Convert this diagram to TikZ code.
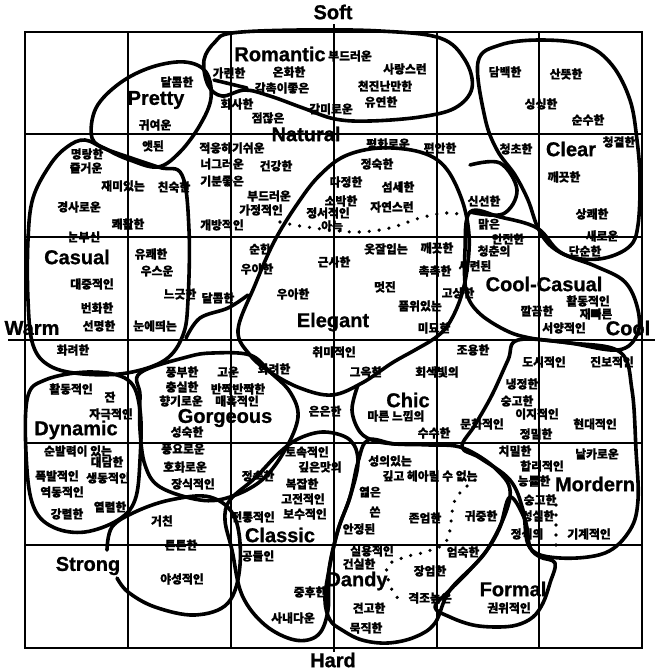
\documentclass[tikz,border=0pt]{standalone}
\usepackage{fontspec}
\setmainfont{Liberation Sans}[BoldFeatures={FakeBold=1}]
\newfontfamily\kr{Noto Sans CJK KR}[BoldFeatures={FakeBold=1}]
\begin{document}
\begin{tikzpicture}[x=1pt,y=-1pt,
  kw/.style={font=\kr\bfseries\fontsize{11.8}{12}\selectfont, inner sep=0pt},
  cat/.style={font=\bfseries\fontsize{20}{20}\selectfont, inner sep=0pt},
  blob/.style={line width=3.6pt, line cap=round, line join=round},
  gridline/.style={line width=1.3pt},
  axisline/.style={line width=2.6pt},
  dotline/.style={line width=3.6pt, line cap=round, dash pattern=on 0pt off 10pt}]
\useasboundingbox (0,0) rectangle (661,672);
% grid
\draw[gridline] (25,32) rectangle (642,648);
\foreach \gx in {128,231,437,539} \draw[gridline] (\gx,32) -- (\gx,648);
\foreach \gy in {134,237,443,545} \draw[gridline] (25,\gy) -- (642,\gy);
\coordinate (vt) at (334,24); \coordinate (vb) at (334,652);
\coordinate (hl) at (8,340); \coordinate (hr) at (655,340);
\draw[axisline] (vt) -- (vb);
\draw[axisline] (hl) -- (hr);
% blobs
\draw[blob] plot[smooth cycle, tension=0.6] coordinates {(232,33) (300,30) (380,31) (440,38) (465,60) (472,88) (455,108) (420,117) (370,121) (335,119) (303,108) (270,96) (245,90) (222,96) (208,85) (204,60) (215,42)};
\draw[blob] (214,80) -- (247,88);
\draw[blob] plot[smooth cycle, tension=0.6] coordinates {(92,138) (96,108) (120,83) (152,67) (185,62) (206,72) (211,98) (200,125) (180,152) (158,167) (130,160) (108,150)};
\draw[blob] plot[smooth cycle, tension=0.6] coordinates {(85,140) (108,150) (158,167) (182,175) (189,230) (188,300) (183,335) (165,360) (127,373) (83,374) (50,366) (33,345) (28,300) (28,240) (33,198) (50,165) (67,147)};
\draw[blob] plot[smooth cycle, tension=0.6] coordinates {(478,62) (500,45) (540,40) (585,45) (612,65) (630,100) (637,140) (640,180) (638,225) (630,246) (605,258) (575,258) (552,247) (538,228) (528,200) (515,175) (497,150) (485,118)};
\draw[blob] plot[smooth cycle, tension=0.6] coordinates {(238,330) (255,285) (275,240) (300,200) (320,175) (345,156) (380,148) (420,152) (445,167) (462,200) (469,235) (467,270) (460,300) (448,325) (435,338) (415,350) (392,363) (362,383) (332,395) (300,388) (270,372) (250,355)};
\draw[blob] plot[smooth, tension=0.6] coordinates {(186,338) (200,318) (228,308) (248,295)};
\draw[blob] plot[smooth, tension=0.6] coordinates {(470,165) (500,163) (517,190) (503,214) (470,212)};
\draw[blob] plot[smooth cycle, tension=0.6] coordinates {(470,212) (500,217) (537,228) (560,252) (595,266) (625,282) (638,310) (637,335) (618,350) (570,343) (530,338) (505,330) (478,312) (466,290) (465,250)};
\draw[blob] plot[smooth cycle, tension=0.6] coordinates {(518,340) (570,343) (620,352) (632,390) (636,450) (638,500) (630,530) (605,553) (560,558) (530,548) (523,510) (510,480) (480,458) (462,447) (475,425) (492,395) (508,360)};
\draw[blob] plot[smooth cycle, tension=0.6] coordinates {(140,373) (187,357) (213,353) (250,355) (270,372) (290,392) (298,417) (285,450) (262,480) (230,497) (200,500) (160,487) (145,465) (140,430) (140,395)};
\draw[blob] plot[smooth cycle, tension=0.6] coordinates {(27,400) (45,380) (90,372) (128,380) (140,410) (140,460) (135,500) (118,520) (85,532) (55,528) (35,510) (27,470)};
\draw[blob] plot[smooth, tension=0.6] coordinates {(107,550) (112,527) (135,512) (170,500) (210,497) (235,518) (240,565) (228,603) (195,615) (155,607) (128,592) (117,578)};
\draw[blob] plot[smooth cycle, tension=0.6] coordinates {(230,500) (255,478) (280,452) (300,438) (325,432) (350,440) (358,462) (350,497) (338,530) (329,570) (328,610) (318,635) (295,640) (265,625) (242,595) (232,550) (225,520)};
\draw[blob] plot[smooth, tension=0.6] coordinates {(358,385) (352,410) (360,432) (375,441) (395,444)};
\draw[blob] plot[smooth cycle, tension=0.6] coordinates {(350,497) (338,530) (329,570) (325,600) (330,620) (342,630) (362,640) (388,643) (415,637) (435,623) (450,590) (487,550) (510,497) (497,470) (463,448) (430,445) (395,444) (368,440) (358,462)};
\draw[blob] plot[smooth cycle, tension=0.6] coordinates {(510,497) (500,527) (487,550) (467,573) (450,590) (435,607) (450,617) (473,625) (497,627) (517,625) (533,617) (543,603) (550,583) (555,563) (540,557) (530,547) (525,520)};
% dotted lines
\draw[dotline] plot[smooth, tension=0.6] coordinates {(280,222) (300,226) (330,230) (360,232) (390,228) (420,218) (445,213) (465,215)};
\draw[dotline] plot[smooth, tension=0.6] coordinates {(475,480) (455,500) (447,540) (425,552) (405,557) (387,567) (392,590) (400,600)};
\draw[dotline] (556,505) -- (556,548);
% category labels
\node[cat] (cSoft) at (333,12) {Soft};
\node[cat] (cHard) at (333,660) {Hard};
\node[cat] (cWarm) at (32,328) {Warm};
\node[cat] (cCool) at (628,328) {Cool};
\node[cat] (cRom) at (280,54) {Romantic};
\node[cat] (cPre) at (156,100) {Pretty};
\node[cat] (cNat) at (306,134) {Natural};
\node[cat] (cCle) at (571,149) {Clear};
\node[cat] (cCas) at (77,257) {Casual};
\node[cat] (cEle) at (333,322) {Elegant};
\node[cat] (cCC) at (544,284) {Cool-Casual};
\node[cat] (cChi) at (408,400) {Chic};
\node[cat] (cGor) at (225,418) {Gorgeous};
\node[cat] (cDyn) at (76,430) {Dynamic};
\node[cat] (cMod) at (595,484) {Mordern};
\node[cat] (cCla) at (280,535) {Classic};
\node[cat] (cStr) at (88,566) {Strong};
\node[cat] (cDan) at (357,581) {Dandy};
\node[cat] (cFor) at (513,589) {Formal};
% words
\foreach \i/\px/\py/\w in {
1/177/82/달콤한, 2/155/125/귀여운, 3/153/146/앳된, 4/87/154/명랑한, 5/86/168/즐거운,
6/229/73/가련한, 7/350/56/부드러운, 8/289/72/온화한, 9/405/69/사랑스런, 10/282/88/감촉이좋은,
11/385/86/천진난만한, 12/237/104/화사한, 13/331/109/감미로운, 14/381/102/유연한, 15/268/118/점잖은,
16/388/144/평화로운, 17/440/148/편안한, 18/377/164/정숙한, 19/232/148/적응하기쉬운, 20/222/164/너그러운,
21/276/166/건강한, 22/505/72/담백한, 23/566/74/산뜻한, 24/541/104/싱싱한, 25/588/120/순수한,
26/516/149/청초한, 27/619/142/청결한, 28/123/186/재미있는, 29/174/187/친숙한, 30/222/181/기분좋은,
31/79/207/경사로운, 32/128/224/쾌활한, 33/222/225/개방적인, 34/84/237/눈부신, 35/151/254/유쾌한,
36/157/271/우스운, 37/92/284/대중적인, 38/180/294/느긋한, 39/218/298/달콤한, 40/97/308/번화한,
41/99/326/선명한, 42/155/326/눈에띄는, 43/346/182/다정한, 44/398/187/섬세한, 45/269/196/부드러운,
46/341/201/소박한, 47/261/210/가정적인, 48/328/213/정서적인, 49/392/207/자연스런, 50/332/226/아늑,
51/260/249/순한, 52/257/269/우아한, 53/334/262/근사한, 54/386/249/옷잘입는, 55/437/248/깨끗한,
56/293/294/우아한, 57/385/287/멋진, 58/420/306/품위있는, 59/435/271/촉촉한, 60/458/293/고상한,
61/434/328/미묘한, 62/564/177/깨끗한, 63/484/201/신선한, 64/592/214/상쾌한, 65/489/224/맑은,
66/508/239/안전한, 67/602/236/새로운, 68/494/251/청춘의, 69/585/251/단순한, 70/475/266/세련된,
71/588/301/활동적인, 72/596/314/재빠른, 73/537/311/깔끔한, 74/564/328/서양적인, 75/73/350/화려한,
76/182/372/풍부한, 77/228/372/고운, 78/274/369/화려한, 79/71/389/활동적인, 80/182/387/충실한,
81/238/389/반짝반짝한, 82/110/397/잔, 83/181/401/향기로운, 84/237/401/매혹적인, 85/111/414/자극적인,
86/187/432/성숙한, 87/78/451/순발력이 있는, 88/107/462/대담한, 89/57/476/폭발적인, 90/108/478/생동적인,
91/62/492/역동적인, 92/183/449/풍요로운, 93/185/467/호화로운, 94/193/484/장식적인, 95/334/352/취미적인,
96/366/372/그윽한, 97/437/372/회색빛의, 98/473/350/조용한, 99/325/411/은은한, 100/396/416/마른 느낌의,
101/434/433/수수한, 102/307/452/토속적인, 103/258/476/정숙한, 104/320/467/깊은맛의, 105/302/484/복잡한,
106/303/499/고전적인, 107/390/461/성의있는, 108/430/476/깊고 헤아릴 수 없는, 109/370/492/엷은, 110/544/362/도시적인,
111/612/362/진보적인, 112/522/384/냉정한, 113/517/401/숭고한, 114/537/414/이지적인, 115/482/424/문화적인,
116/595/424/현대적인, 117/536/434/정밀한, 118/515/451/치밀한, 119/597/454/날카로운, 120/542/466/합리적인,
121/534/481/능률한, 122/540/500/숭고한, 123/67/514/강렬한, 124/110/507/열렬한, 125/162/521/거친,
126/181/545/튼튼한, 127/182/579/야성적인, 128/253/517/전통적인, 129/305/514/보수적인, 130/375/512/쓴,
131/359/529/안정된, 132/425/518/존엄한, 133/481/516/귀중한, 134/258/556/공들인, 135/372/551/실용적인,
136/359/564/건실한, 137/310/592/중후한, 138/369/608/견고한, 139/293/618/사내다운, 140/366/628/묵직한,
141/430/571/장엄한, 142/463/552/엄숙한, 143/430/598/격조높은, 144/509/608/권위적인, 145/527/534/정식의,
146/589/534/기계적인, 147/538/516/성실한}
  \node[kw] (w\i) at (\px,\py) {\w};
\end{tikzpicture}
\end{document}
